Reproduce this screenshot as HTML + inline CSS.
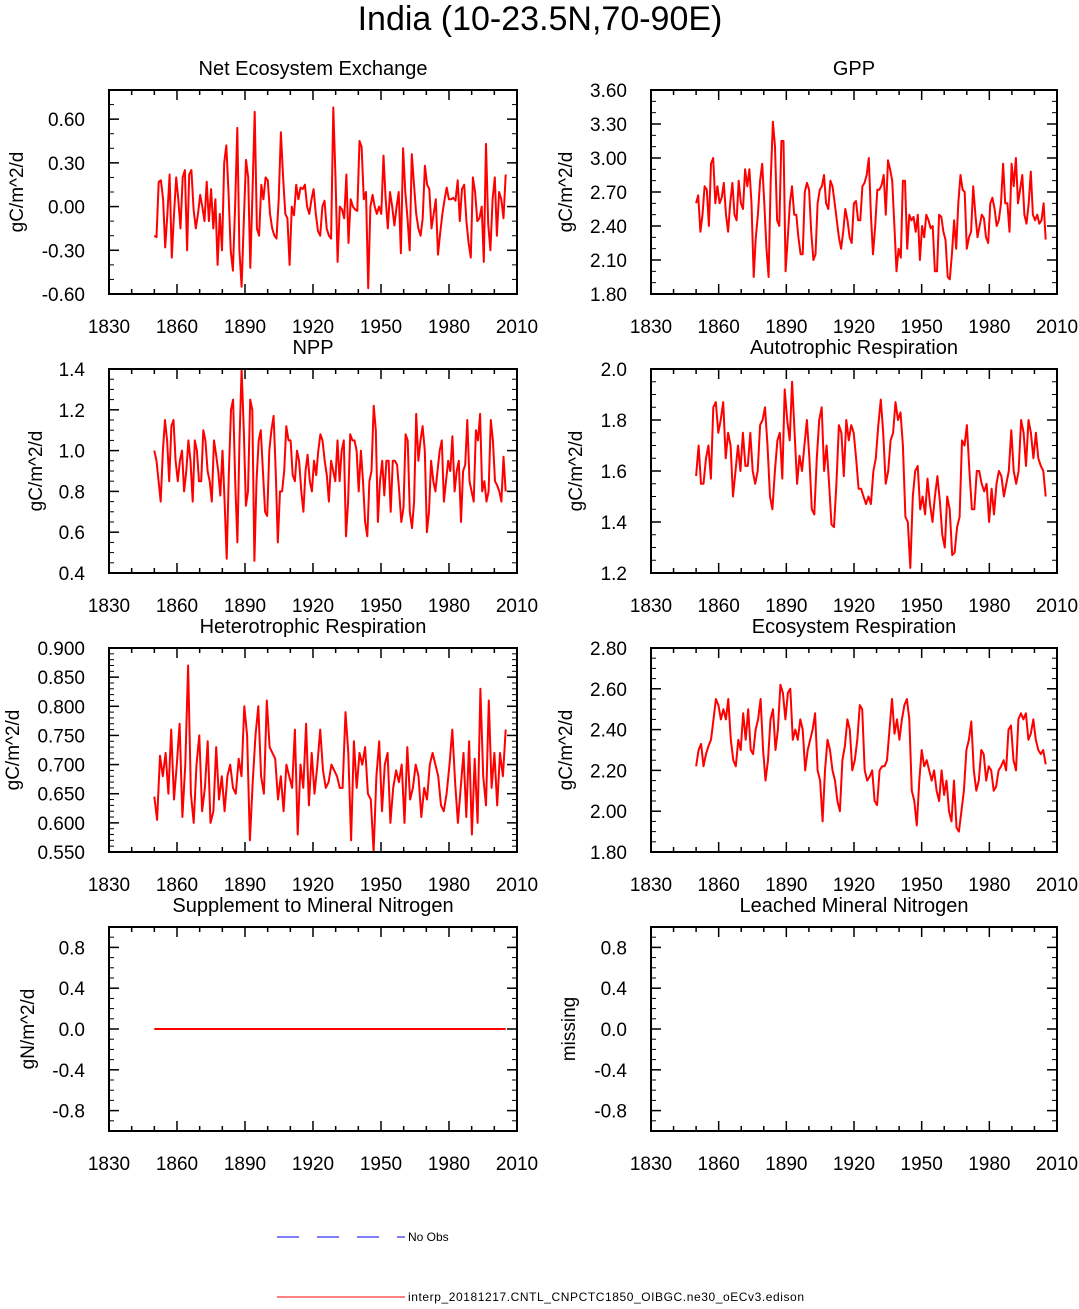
<!DOCTYPE html>
<html><head><meta charset="utf-8"><style>
body{margin:0;background:#fff;}
svg text{font-family:"Liberation Sans",Arial,sans-serif;fill:#000;}
</style></head><body>
<svg id="chart" width="1079" height="1304" viewBox="0 0 1079 1304">
<text x="540" y="30" font-size="34" text-anchor="middle">India (10-23.5N,70-90E)</text>
<g id="panels"></g>
<g>
<line x1="277" y1="1237" x2="405" y2="1237" stroke="#0000ff" stroke-width="1" stroke-dasharray="22,18"/>
<text x="408" y="1241" font-size="12">No Obs</text>
<line x1="277" y1="1297" x2="405" y2="1297" stroke="#ff0000" stroke-width="1"/>
<text x="408" y="1301" font-size="12" textLength="396">interp_20181217.CNTL_CNPCTC1850_OIBGC.ne30_oECv3.edison</text>
</g>
</svg>
<script>
const xTicks=[1830,1860,1890,1920,1950,1980,2010];
const yearStart=1850, yearEnd=2005;
const neeVals=[-0.2,-0.21,0.17,0.18,0.05,-0.28,-0.05,0.22,-0.35,-0.05,0.2,0.05,-0.15,0.2,0.25,-0.3,0.22,0.25,-0.02,-0.15,-0.05,0.08,0.0,-0.1,0.17,-0.1,0.12,-0.15,0.05,-0.4,-0.05,-0.3,0.3,0.42,0.1,-0.3,-0.44,0.0,0.54,-0.3,-0.55,-0.1,0.32,0.2,-0.42,0.1,0.65,-0.15,-0.2,0.15,0.05,0.2,0.18,-0.05,-0.15,-0.2,-0.22,0.05,0.51,0.2,-0.05,-0.08,-0.4,0.0,-0.06,0.15,0.05,0.13,0.12,0.15,0.0,-0.05,0.05,0.12,-0.05,-0.17,-0.2,0.0,0.04,-0.15,-0.2,-0.22,0.68,0.2,-0.38,0.0,-0.02,-0.08,0.22,-0.25,0.05,0.0,-0.02,-0.03,0.45,0.41,0.05,0.1,-0.56,0.0,0.08,0.0,-0.05,0.0,-0.05,0.35,0.06,-0.15,0.1,0.0,-0.13,0.0,0.1,-0.32,0.4,0.1,-0.08,-0.3,0.36,0.15,-0.05,-0.15,-0.2,-0.08,0.28,0.15,0.12,-0.15,-0.05,0.05,-0.33,-0.18,-0.05,0.05,0.13,0.05,0.05,0.06,0.04,0.18,-0.1,0.12,0.15,-0.1,-0.25,-0.35,0.2,0.1,-0.1,-0.08,0.0,-0.38,0.43,-0.12,-0.3,0.05,0.2,-0.2,0.1,0.05,-0.08,0.22];
const gppVals=[2.6,2.67,2.35,2.5,2.75,2.72,2.4,2.95,3.0,2.6,2.75,2.6,2.65,2.78,2.5,2.35,2.6,2.78,2.5,2.45,2.8,2.6,2.55,2.9,2.75,2.9,2.6,1.95,2.3,2.5,2.8,2.95,2.6,2.2,1.95,2.8,3.32,3.1,2.45,2.4,3.15,3.15,2.0,2.3,2.6,2.75,2.5,2.5,2.3,2.15,2.15,2.7,2.78,2.72,2.35,2.1,2.15,2.6,2.72,2.75,2.85,2.6,2.55,2.8,2.75,2.6,2.45,2.3,2.2,2.35,2.55,2.45,2.3,2.25,2.6,2.62,2.45,2.45,2.75,2.78,2.85,3.0,2.5,2.15,2.4,2.72,2.72,2.76,2.85,2.5,2.98,2.9,2.8,2.4,2.0,2.2,2.12,2.8,2.8,2.2,2.5,2.45,2.48,2.35,2.5,2.1,2.4,2.3,2.5,2.45,2.38,2.4,2.0,2.0,2.5,2.48,2.35,2.28,1.95,1.93,2.15,2.45,2.2,2.6,2.85,2.72,2.7,2.2,2.3,2.35,2.75,2.5,2.3,2.4,2.5,2.47,2.3,2.25,2.6,2.65,2.55,2.4,2.45,2.6,2.95,2.6,2.6,2.35,2.95,2.75,3.0,2.6,2.72,2.85,2.5,2.42,2.6,2.88,2.5,2.45,2.5,2.42,2.45,2.6,2.28];
const nppVals=[1.0,0.95,0.85,0.75,1.0,1.15,1.05,0.85,1.12,1.15,0.95,0.85,0.95,1.0,0.8,0.9,1.05,0.95,0.75,1.05,1.0,0.85,0.85,1.1,1.05,0.9,0.85,0.75,1.05,0.98,0.9,0.78,1.0,0.75,0.47,0.9,1.2,1.25,0.85,0.55,1.05,1.4,1.1,0.73,0.8,1.25,1.2,0.46,0.85,1.05,1.1,0.9,0.7,0.68,1.0,1.1,1.17,0.9,0.55,0.8,0.8,0.9,1.12,1.05,1.05,0.88,0.85,1.0,0.95,0.8,0.7,0.9,0.98,0.85,0.8,0.95,0.88,1.0,1.08,1.05,0.95,0.88,0.75,0.95,0.9,0.85,1.05,0.85,1.0,1.05,0.58,0.75,1.08,1.05,1.05,1.0,0.8,1.0,0.85,0.65,0.58,0.85,0.9,1.22,1.1,0.65,0.85,0.95,0.78,0.95,0.95,0.7,0.95,0.95,0.93,0.8,0.65,0.72,1.08,1.05,0.7,0.62,0.75,1.18,0.95,1.05,1.12,1.0,0.6,0.7,0.95,0.85,0.8,0.9,1.0,1.05,0.75,0.85,0.95,0.9,1.07,0.8,0.9,0.95,0.65,0.9,0.93,1.15,0.85,0.8,0.75,1.1,1.05,1.18,0.8,0.85,0.75,0.8,1.15,1.05,0.85,0.83,0.8,0.75,0.97,0.8];
const arVals=[1.58,1.7,1.55,1.55,1.65,1.7,1.57,1.85,1.87,1.75,1.8,1.87,1.65,1.75,1.7,1.5,1.6,1.7,1.6,1.75,1.62,1.62,1.75,1.6,1.55,1.6,1.78,1.8,1.85,1.7,1.5,1.45,1.6,1.72,1.75,1.57,1.92,1.8,1.72,1.95,1.75,1.55,1.66,1.6,1.7,1.8,1.65,1.45,1.43,1.65,1.8,1.85,1.6,1.7,1.55,1.39,1.38,1.55,1.78,1.75,1.58,1.8,1.72,1.78,1.75,1.65,1.53,1.53,1.5,1.47,1.5,1.47,1.6,1.65,1.78,1.88,1.75,1.55,1.6,1.72,1.75,1.87,1.8,1.83,1.7,1.42,1.4,1.22,1.5,1.6,1.62,1.45,1.5,1.43,1.57,1.47,1.4,1.5,1.58,1.48,1.35,1.3,1.5,1.45,1.27,1.28,1.38,1.42,1.72,1.7,1.78,1.6,1.45,1.45,1.6,1.6,1.55,1.52,1.55,1.4,1.53,1.43,1.55,1.6,1.58,1.5,1.55,1.6,1.76,1.6,1.55,1.6,1.8,1.75,1.62,1.8,1.75,1.65,1.75,1.65,1.62,1.6,1.5];
const hrVals=[0.645,0.605,0.715,0.68,0.72,0.65,0.76,0.64,0.7,0.77,0.61,0.7,0.87,0.65,0.6,0.7,0.75,0.62,0.66,0.74,0.6,0.62,0.73,0.64,0.68,0.62,0.68,0.7,0.66,0.65,0.71,0.68,0.8,0.75,0.57,0.67,0.75,0.8,0.68,0.65,0.81,0.73,0.72,0.71,0.64,0.68,0.62,0.7,0.68,0.66,0.76,0.58,0.7,0.66,0.77,0.63,0.72,0.65,0.7,0.76,0.69,0.66,0.67,0.7,0.69,0.68,0.66,0.66,0.79,0.72,0.57,0.74,0.66,0.72,0.7,0.73,0.65,0.64,0.55,0.68,0.74,0.62,0.7,0.72,0.6,0.66,0.69,0.67,0.7,0.6,0.73,0.64,0.66,0.7,0.68,0.61,0.66,0.64,0.7,0.72,0.7,0.68,0.63,0.62,0.65,0.7,0.76,0.67,0.6,0.66,0.72,0.61,0.74,0.58,0.71,0.6,0.83,0.68,0.63,0.81,0.66,0.72,0.63,0.72,0.68,0.76];
const erVals=[2.22,2.3,2.33,2.22,2.28,2.32,2.35,2.45,2.55,2.52,2.45,2.5,2.45,2.55,2.35,2.25,2.22,2.35,2.3,2.48,2.35,2.5,2.3,2.28,2.4,2.45,2.55,2.3,2.15,2.25,2.45,2.5,2.3,2.4,2.62,2.58,2.45,2.58,2.6,2.35,2.4,2.35,2.45,2.4,2.2,2.3,2.35,2.4,2.48,2.2,2.15,1.95,2.2,2.35,2.3,2.2,2.15,2.05,2.0,2.25,2.32,2.45,2.4,2.2,2.25,2.35,2.52,2.5,2.2,2.15,2.17,2.2,2.05,2.03,2.2,2.22,2.22,2.25,2.4,2.55,2.38,2.45,2.35,2.45,2.52,2.55,2.45,2.1,2.05,1.93,2.15,2.3,2.22,2.25,2.2,2.15,2.2,2.1,2.05,2.2,2.08,2.15,2.0,1.95,2.15,1.92,1.9,2.0,2.1,2.3,2.35,2.44,2.2,2.1,2.15,2.3,2.28,2.15,2.22,2.2,2.1,2.12,2.2,2.22,2.25,2.2,2.4,2.42,2.25,2.2,2.45,2.48,2.45,2.48,2.35,2.38,2.45,2.35,2.3,2.28,2.3,2.23];
const smnVals=[0,0,0,0,0,0,0,0,0,0,0,0,0,0,0,0];
const neeTicks=["0.60","0.30","0.00","-0.30","-0.60"];
const gppTicks=["3.60","3.30","3.00","2.70","2.40","2.10","1.80"];
const nppTicks=["1.4","1.2","1.0","0.8","0.6","0.4"];
const arTicks=["2.0","1.8","1.6","1.4","1.2"];
const hrTicks=["0.900","0.850","0.800","0.750","0.700","0.650","0.600","0.550"];
const erTicks=["2.80","2.60","2.40","2.20","2.00","1.80"];
const nTicks=["0.8","0.4","0.0","-0.4","-0.8"];

const NS="http://www.w3.org/2000/svg";
const root=document.getElementById('panels');
function mk(tag,attrs,parent){const e=document.createElementNS(NS,tag);for(const k in attrs)e.setAttribute(k,attrs[k]);parent.appendChild(e);return e;}
const panels=[
 {name:'nee',title:'Net Ecosystem Exchange',ylab:'gC/m^2/d',vals:neeVals,ticks:neeTicks,ymin:-0.6,ymax:0.8,minor:0.1,col:0,row:0,lo:93},
 {name:'gpp',title:'GPP',ylab:'gC/m^2/d',vals:gppVals,ticks:gppTicks,ymin:1.8,ymax:3.6,minor:0.1,col:1,row:0,lo:86},
 {name:'npp',title:'NPP',ylab:'gC/m^2/d',vals:nppVals,ticks:nppTicks,ymin:0.4,ymax:1.4,minor:0.05,col:0,row:1,lo:74},
 {name:'autotrophic-respiration',title:'Autotrophic Respiration',ylab:'gC/m^2/d',vals:arVals,ticks:arTicks,ymin:1.2,ymax:2.0,minor:0.05,col:1,row:1,lo:76},
 {name:'heterotrophic-respiration',title:'Heterotrophic Respiration',ylab:'gC/m^2/d',vals:hrVals,ticks:hrTicks,ymin:0.55,ymax:0.9,minor:0.01,col:0,row:2,lo:97},
 {name:'ecosystem-respiration',title:'Ecosystem Respiration',ylab:'gC/m^2/d',vals:erVals,ticks:erTicks,ymin:1.8,ymax:2.8,minor:0.05,col:1,row:2,lo:86},
 {name:'supplement-mineral-nitrogen',title:'Supplement to Mineral Nitrogen',ylab:'gN/m^2/d',vals:smnVals,ticks:nTicks,ymin:-1,ymax:1,minor:0.1,col:0,row:3,lo:82},
 {name:'leached-mineral-nitrogen',title:'Leached Mineral Nitrogen',ylab:'missing',vals:[],ticks:nTicks,ymin:-1,ymax:1,minor:0.1,col:1,row:3,lo:83}
];
panels.forEach(p=>{
 const L=p.col?651:109, R=p.col?1057:517, T=90+p.row*279, B=T+204;
 const xs=v=>L+(v-1830)/(2010-1830)*(R-L);
 const ys=v=>B-(v-p.ymin)/(p.ymax-p.ymin)*(B-T);
 const g=mk('g',{},root);
 
 
 const t=mk('text',{x:(L+R)/2,y:T-15,'font-size':20,'text-anchor':'middle'},g);t.textContent=p.title;
 
 
 for(let yr=1830;yr<=2010;yr+=10){const X=xs(yr);const len=(yr-1830)%30===0?10:5;
  mk('line',{x1:X,y1:B,x2:X,y2:B-len,stroke:'#000','stroke-width':1.5},g);
  mk('line',{x1:X,y1:T,x2:X,y2:T+len,stroke:'#000','stroke-width':1.5},g);}
 xTicks.forEach(yr=>{const tx=mk('text',{x:xs(yr),y:B+39,'font-size':19,'text-anchor':'middle'},g);tx.textContent=yr;
  
  });
 for(let v=p.ymin;v<=p.ymax+1e-9;v+=p.minor){const Y=ys(v);
  mk('line',{x1:L,y1:Y,x2:L+5,y2:Y,stroke:'#000','stroke-width':1},g);
  mk('line',{x1:R,y1:Y,x2:R-5,y2:Y,stroke:'#000','stroke-width':1},g);}
 p.ticks.forEach(s=>{const v=parseFloat(s),Y=ys(v);
  mk('line',{x1:L,y1:Y,x2:L+10,y2:Y,stroke:'#000','stroke-width':1.5},g);
  mk('line',{x1:R,y1:Y,x2:R-10,y2:Y,stroke:'#000','stroke-width':1.5},g);
  const ty=mk('text',{x:L-24,y:Y+7,'font-size':19,'text-anchor':'end'},g);ty.textContent=s;
  
  });
 const yl=mk('text',{x:0,y:0,'font-size':19,'text-anchor':'middle',transform:`translate(${L-p.lo+7},${(T+B)/2}) rotate(-90)`},g);yl.textContent=p.ylab;
 
 
 if(p.vals.length){const n=p.vals.length;
  const pts=p.vals.map((v,i)=>xs(yearStart+i*(yearEnd-yearStart)/(n-1)).toFixed(1)+','+ys(v).toFixed(1)).join(' ');
  const pl=mk('polyline',{points:pts,fill:'none',stroke:'#ff0000','stroke-width':2,'stroke-linejoin':'round'},g);
  
  }
 const fr=mk('rect',{x:L,y:T,width:R-L,height:B-T,fill:'none',stroke:'#000','stroke-width':2},g);
 
 
});
</script>
</body></html>
